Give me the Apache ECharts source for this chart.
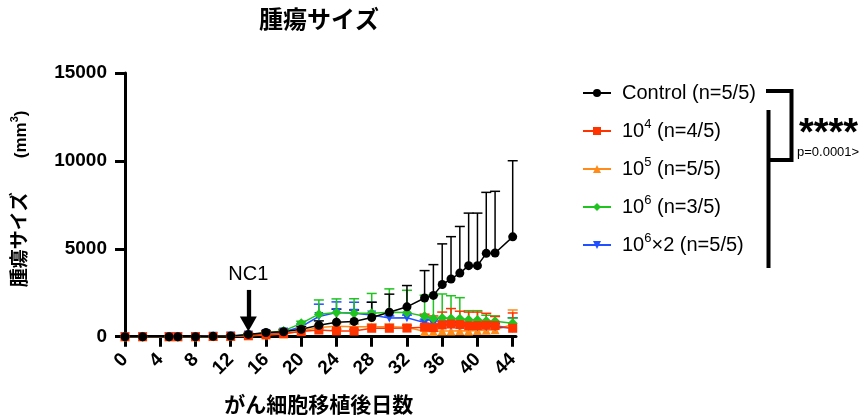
<!DOCTYPE html>
<html><head><meta charset="utf-8">
<script src="https://cdn.jsdelivr.net/npm/echarts@6/dist/echarts.min.js"></script>
<style>html,body{margin:0;padding:0;background:#fff}#c{width:865px;height:416px}</style>
</head><body><div id="c"></div>
<script>
// ---- data ----
const days = [0,2,5,6,8,10,12,14,16,18,20,22,24,26,28,30,32,34,35,36,37,38,39,40,41,42,44];
const xTicks = [0,4,8,12,16,20,24,28,32,36,40,44];
const yTicks = [0,5000,10000,15000];

const controlMean = [0,0,0,0,0,20,40,130,240,280,420,650,820,870,1090,1390,1700,2200,2350,2970,3280,3620,4040,4040,4740,4760,5680];
const controlErr  = [0,0,0,0,0,20,30,60,90,110,160,250,750,650,870,1030,1210,1560,1750,2310,2410,2650,2990,2990,3470,3510,4330];

const e4Mean = [0,0,0,0,0,10,20,60,120,180,290,380,330,320,480,480,490,540,520,670,720,690,620,630,650,630,480];
const e4Err  = [0,0,0,0,0,0,10,20,40,60,90,120,100,100,120,120,130,740,660,730,880,760,780,770,680,520,870];

const e5Mean = [0,0,0,0,0,10,20,50,100,150,330,520,600,560,570,560,540,300,290,320,330,340,330,350,370,400,700];
const e5Err  = [0,0,0,0,0,0,10,20,40,60,120,150,150,160,150,160,160,350,350,380,380,360,350,330,300,280,820];

const e6Mean = [0,0,0,0,0,10,30,100,220,330,760,1280,1370,1340,1340,1390,1370,1160,1030,1070,1040,1020,960,950,900,880,760];
const e6Err  = [0,0,0,0,0,10,20,40,80,120,120,810,780,820,1120,1330,1270,1200,1320,1360,1290,1200,520,530,320,300,300];

const e62Mean = [0,0,0,0,0,20,40,100,180,270,570,1150,1380,1340,1240,1060,1080,800,720,680,650,620,590,570,560,560,480];
const e62Err  = [0,0,0,0,0,10,20,40,70,100,150,700,600,620,720,120,150,150,250,180,200,180,200,220,200,200,600];

const names = ['Control (n=5/5)','10^4 (n=4/5)','10^5 (n=5/5)','10^6 (n=3/5)','10^6×2 (n=5/5)'];

// ---- styles ----
const FONT = '"Liberation Sans", Arial, "Noto Sans CJK JP", sans-serif';
const groups = [
  {name:names[2], mean:e5Mean,  err:e5Err,  color:'#FF8C1A', symbol:'triangle', size:9,  rot:0},
  {name:names[4], mean:e62Mean, err:e62Err, color:'#2050FF', symbol:'triangle', size:9,  rot:180},
  {name:names[3], mean:e6Mean,  err:e6Err,  color:'#1FC41F', symbol:'diamond',  size:10, rot:0},
  {name:names[1], mean:e4Mean,  err:e4Err,  color:'#FF3300', symbol:'rect',     size:9,  rot:0},
  {name:names[0], mean:controlMean, err:controlErr, color:'#000000', symbol:'circle', size:9, rot:0}
];

function errSeries(g){
  return {
    type:'custom', xAxisIndex:1, yAxisIndex:1, z:1, silent:true,
    data: days.map((d,i)=>[d, g.mean[i], g.err[i]]).filter(r=>r[2]>0),
    encode:{x:0,y:1},
    renderItem:(params, api)=>{
      const x = api.value(0), m = api.value(1), e = api.value(2);
      const a = api.coord([x,m]), b = api.coord([x,m+e]);
      const st = {stroke:g.color, lineWidth:1.5};
      return {type:'group', children:[
        {type:'line', shape:{x1:a[0],y1:a[1],x2:b[0],y2:b[1]}, style:st},
        {type:'line', shape:{x1:b[0]-5,y1:b[1],x2:b[0]+5,y2:b[1]}, style:st}
      ]};
    }
  };
}
function lineSeries(g){
  const s = {
    type:'line', name:g.name, xAxisIndex:1, yAxisIndex:1, z:3,
    data: days.map((d,i)=>[d, g.mean[i]]),
    symbol:g.symbol, symbolSize:g.size, symbolRotate:g.rot, showAllSymbol:true,
    lineStyle:{color:g.color, width:1.5}, itemStyle:{color:g.color}
  };
  if (g.name === names[0]) {
    s.markLine = {
      silent:true, animation:false,
      symbol:['none','triangle'], symbolSize:[17,15],
      lineStyle:{color:'#000', width:4.3, type:'solid'},
      label:{show:true, position:'start', formatter:'NC1', fontSize:20, color:'#000', fontFamily:FONT, distance:5},
      data:[[{coord:[14,2660]},{coord:[14,720]}]]
    };
  }
  return s;
}

const series = [];
groups.forEach(g=>series.push(errSeries(g)));
groups.forEach(g=>series.push(lineSeries(g)));

const chart = echarts.init(document.getElementById('c'));
chart.setOption({
  animation:false,
  backgroundColor:'#fff',
  title:{text:'腫瘍サイズ', left:319, top:9, textAlign:'center', padding:0,
    textStyle:{fontFamily:FONT, fontSize:24, fontWeight:'bold', color:'#000'}},
  grid:[
    {left:120, top:73, width:396, height:263.7, outerBoundsMode:'none', containLabel:false},
    {left:125, top:73, width:387.7, height:263.7, outerBoundsMode:'none', containLabel:false}
  ],
  xAxis:[
    {type:'value', gridIndex:0, min:-0.57, max:44.38,
      axisLine:{show:true, lineStyle:{color:'#000', width:3}},
      axisTick:{show:false}, axisLabel:{show:false}, splitLine:{show:false}},
    {type:'value', gridIndex:1, min:xTicks[0], max:xTicks[xTicks.length-1], interval:xTicks[1]-xTicks[0],
      axisLine:{show:false},
      axisTick:{show:true, length:10, lineStyle:{color:'#000', width:3}},
      axisLabel:{rotate:45, margin:20, fontFamily:FONT, fontSize:19, fontWeight:'bold', color:'#000'},
      splitLine:{show:false},
      name:'がん細胞移植後日数', nameLocation:'middle', nameGap:59, nameMoveOverlap:false,
      nameTextStyle:{fontFamily:FONT, fontSize:21, fontWeight:'bold', color:'#000'}}
  ],
  yAxis:[
    {type:'value', gridIndex:0, min:yTicks[0], max:yTicks[yTicks.length-1], interval:yTicks[1]-yTicks[0],
      axisLine:{show:true, lineStyle:{color:'#000', width:3}},
      axisTick:{show:true, length:10, lineStyle:{color:'#000', width:3}},
      axisLabel:{margin:13, fontFamily:FONT, fontSize:19, fontWeight:'bold', color:'#000', formatter:v=>String(v)},
      splitLine:{show:false},
      name:'{j|腫瘍サイズ}{g| }{m|(mm}{sup|3}{m|)}', nameLocation:'middle', nameGap:87, nameRotate:90, nameMoveOverlap:false,
      nameTextStyle:{fontFamily:FONT, fontSize:19, fontWeight:'bold', color:'#000', padding:[0,0,0,12],
        rich:{
          j:{fontFamily:FONT, fontSize:19, fontWeight:'bold', lineHeight:24},
          g:{fontSize:19, width:34, lineHeight:24},
          m:{fontFamily:FONT, fontSize:17, fontWeight:'bold', lineHeight:24},
          sup:{fontFamily:FONT, fontSize:11, fontWeight:'bold', verticalAlign:'top', lineHeight:12}
        }}},
    {type:'value', gridIndex:1, min:yTicks[0], max:yTicks[yTicks.length-1], show:false, splitLine:{show:false}}
  ],
  legend:{
    data:names, orient:'vertical', left:577, top:75, itemWidth:28, itemHeight:10, itemGap:12,
    selectedMode:false,
    formatter:n=>n.replace(/\^(\d)/,'{sup|$1}'),
    textStyle:{fontFamily:FONT, fontSize:20, color:'#000', lineHeight:26, padding:[0,0,0,6],
      rich:{sup:{fontFamily:FONT, fontSize:13, lineHeight:14, verticalAlign:'top', color:'#000'}}}
  },
  graphic:[
    {type:'polyline', shape:{points:[[766,91],[791.5,91],[791.5,160],[768.5,160]]},
      style:{stroke:'#000', lineWidth:4, fill:null}},
    {type:'line', shape:{x1:768.5,y1:110,x2:768.5,y2:268}, style:{stroke:'#000', lineWidth:4}},
    {type:'text', x:799, y:135, style:{text:'****', fontFamily:FONT, fontSize:38, fontWeight:'bold', fill:'#000', verticalAlign:'middle'}},
    {type:'text', x:797, y:152, style:{text:'p=0.0001>', fontFamily:FONT, fontSize:13, fill:'#000', verticalAlign:'middle'}}
  ],
  series:series
});
</script>
</body></html>
